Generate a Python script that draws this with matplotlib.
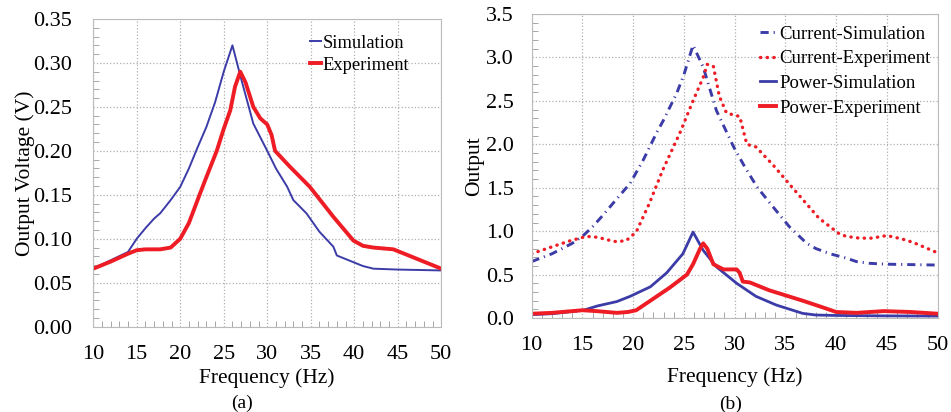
import matplotlib
matplotlib.use("Agg")
import matplotlib.pyplot as plt
from matplotlib.ticker import MultipleLocator

plt.rcParams['font.family'] = ['Liberation Serif', 'DejaVu Serif']

# (a) output voltage
freq_a_sim = [10, 14, 15, 16, 17, 17.7, 18.9, 20, 21, 22, 23, 24, 25, 25.5, 26, 27, 28.4, 30, 31, 32.3, 33, 34.5, 36, 37.6, 38, 39, 40, 41, 42.2, 45, 50]
volt_sim = [0.066, 0.085, 0.100, 0.112, 0.123, 0.129, 0.144, 0.159, 0.180, 0.204, 0.227, 0.255, 0.290, 0.305, 0.320, 0.282, 0.231, 0.200, 0.180, 0.159, 0.144, 0.129, 0.108, 0.091, 0.081, 0.077, 0.073, 0.069, 0.066, 0.065, 0.064]
freq_a_exp = [10, 12, 14, 15, 16, 17.7, 18.9, 20, 21, 22.3, 23, 24.2, 25, 25.75, 26.3, 26.9, 27.5, 28.4, 29.2, 30, 30.5, 30.9, 32.6, 34.9, 37.6, 39.9, 41, 42.2, 44.5, 46, 48, 50]
volt_exp = [0.066, 0.074, 0.083, 0.087, 0.088, 0.088, 0.090, 0.100, 0.118, 0.152, 0.170, 0.200, 0.225, 0.246, 0.273, 0.290, 0.278, 0.250, 0.237, 0.230, 0.218, 0.200, 0.182, 0.159, 0.125, 0.098, 0.092, 0.090, 0.088, 0.082, 0.074, 0.066]

# (b) current and power
freq_b_csim = [10, 12, 14, 15, 16, 17, 18.3, 19.7, 21, 22.3, 23, 24.3, 25, 25.9, 26.9, 28.2, 29.9, 31, 32.2, 33.5, 35.4, 37.1, 38, 39.4, 41, 42, 43.3, 45, 50]
cur_sim = [0.65, 0.74, 0.86, 0.94, 1.05, 1.18, 1.36, 1.55, 1.82, 2.13, 2.28, 2.59, 2.80, 3.14, 2.89, 2.39, 1.97, 1.74, 1.51, 1.32, 1.05, 0.86, 0.80, 0.74, 0.69, 0.65, 0.63, 0.62, 0.61]
freq_b_cexp = [10, 12, 13.8, 15.4, 16.5, 17.5, 18.3, 19.3, 20.3, 21.6, 22.9, 24.6, 25.9, 26.9, 27.3, 27.9, 28.5, 29.2, 30.5, 31.2, 32.1, 33.8, 35.7, 38.3, 40.3, 41, 42.3, 43.5, 45, 46.5, 47.6, 49, 50]
cur_exp = [0.74, 0.82, 0.89, 0.94, 0.93, 0.90, 0.88, 0.89, 0.99, 1.32, 1.70, 2.13, 2.50, 2.77, 2.92, 2.90, 2.55, 2.36, 2.32, 2.00, 1.97, 1.76, 1.50, 1.15, 0.97, 0.94, 0.92, 0.92, 0.95, 0.91, 0.87, 0.80, 0.75]
freq_b_psim = [10, 12, 15.1, 16.5, 18.4, 19.7, 21.7, 23.3, 24.9, 25.9, 26.9, 28.2, 30.2, 32.1, 34.1, 36.7, 38, 40, 45, 50]
pow_sim = [0.04, 0.05, 0.09, 0.14, 0.19, 0.25, 0.36, 0.52, 0.74, 0.99, 0.78, 0.59, 0.40, 0.25, 0.15, 0.054, 0.035, 0.03, 0.025, 0.023]
freq_b_pexp = [10, 12, 15, 16.4, 18.4, 19.5, 20.3, 21.7, 23.6, 25.3, 25.9, 26.6, 26.9, 27.3, 27.9, 28.9, 30.2, 30.5, 30.8, 31.5, 33.4, 36.7, 38.5, 40, 42, 44.7, 47.3, 50]
pow_exp = [0.05, 0.06, 0.09, 0.08, 0.06, 0.07, 0.09, 0.20, 0.35, 0.50, 0.62, 0.80, 0.86, 0.80, 0.62, 0.56, 0.56, 0.52, 0.42, 0.41, 0.32, 0.20, 0.13, 0.07, 0.06, 0.08, 0.07, 0.05]

blue = '#3c3ca8'
red = '#ee1c24'

fig = plt.figure(figsize=(9.51, 4.12), dpi=100)
ax1 = fig.add_axes([0.098, 0.207, 0.366, 0.747])
ax2 = fig.add_axes([0.559, 0.228, 0.427, 0.738])


def style(ax, ymax, ymajor, yminor, ypad, xlpad):
    ax.set_xlim(10, 50)
    ax.set_ylim(0, ymax)
    ax.xaxis.set_major_locator(MultipleLocator(5))
    ax.xaxis.set_minor_locator(MultipleLocator(1))
    ax.yaxis.set_major_locator(MultipleLocator(ymajor))
    ax.yaxis.set_minor_locator(MultipleLocator(yminor))
    ax.grid(True, which='major', linestyle=':', color='#b0b0b0', linewidth=0.9)
    ax.tick_params(which='both', direction='in', color='#999999', labelsize=16)
    ax.tick_params(which='major', length=0)
    ax.tick_params(axis='x', which='major', pad=13)
    ax.tick_params(axis='y', which='major', pad=ypad)
    ax.tick_params(which='minor', length=4)
    for s in ax.spines.values():
        s.set_color('#bbbbbb')
        s.set_linewidth(0.8)
    ax.set_xlabel('Frequency (Hz)', fontsize=15.5, labelpad=xlpad)


ax1.plot(freq_a_sim, volt_sim, color=blue, lw=1.4, label='Simulation')
ax1.plot(freq_a_exp, volt_exp, color=red, lw=2.8, label='Experiment')
style(ax1, 0.35, 0.05, 0.01, 15, 3)
ax1.yaxis.set_major_formatter(plt.FormatStrFormatter('%.2f'))
ax1.set_ylabel('Output Voltage (V)', fontsize=15.5, labelpad=-1)
ax1.legend(loc='upper left', bbox_to_anchor=(0.585, 0.99), frameon=False, fontsize=13.3,
           handlelength=0.6, handletextpad=0.1, borderaxespad=0.3, labelspacing=0.25)
fig.text(0.254, 0.022, '(a)', ha='center', va='center', fontsize=14)

ax2.plot(freq_b_csim, cur_sim, color=blue, lw=2.1, linestyle=(0, (2.8, 1.7, 0.4, 1.7)), label='Current-Simulation')
ax2.plot(freq_b_cexp, cur_exp, color=red, lw=2.4, linestyle=(0, (0.1, 1.9)), dash_capstyle='round', label='Current-Experiment')
ax2.plot(freq_b_psim, pow_sim, color=blue, lw=2.0, label='Power-Simulation')
ax2.plot(freq_b_pexp, pow_exp, color=red, lw=2.8, label='Power-Experiment')
style(ax2, 3.5, 0.5, 0.1, 13, 9)
ax2.yaxis.set_major_formatter(plt.FormatStrFormatter('%.1f'))
ax2.set_ylabel('Output', fontsize=15.5, labelpad=1)
ax2.legend(loc='upper left', bbox_to_anchor=(0.53, 1.005), frameon=False, fontsize=13.5,
           handlelength=0.85, handletextpad=0.2, borderaxespad=0.3, labelspacing=0.4)
fig.text(0.768, 0.018, '(b)', ha='center', va='center', fontsize=14)

fig.savefig('out.png', dpi=100)
